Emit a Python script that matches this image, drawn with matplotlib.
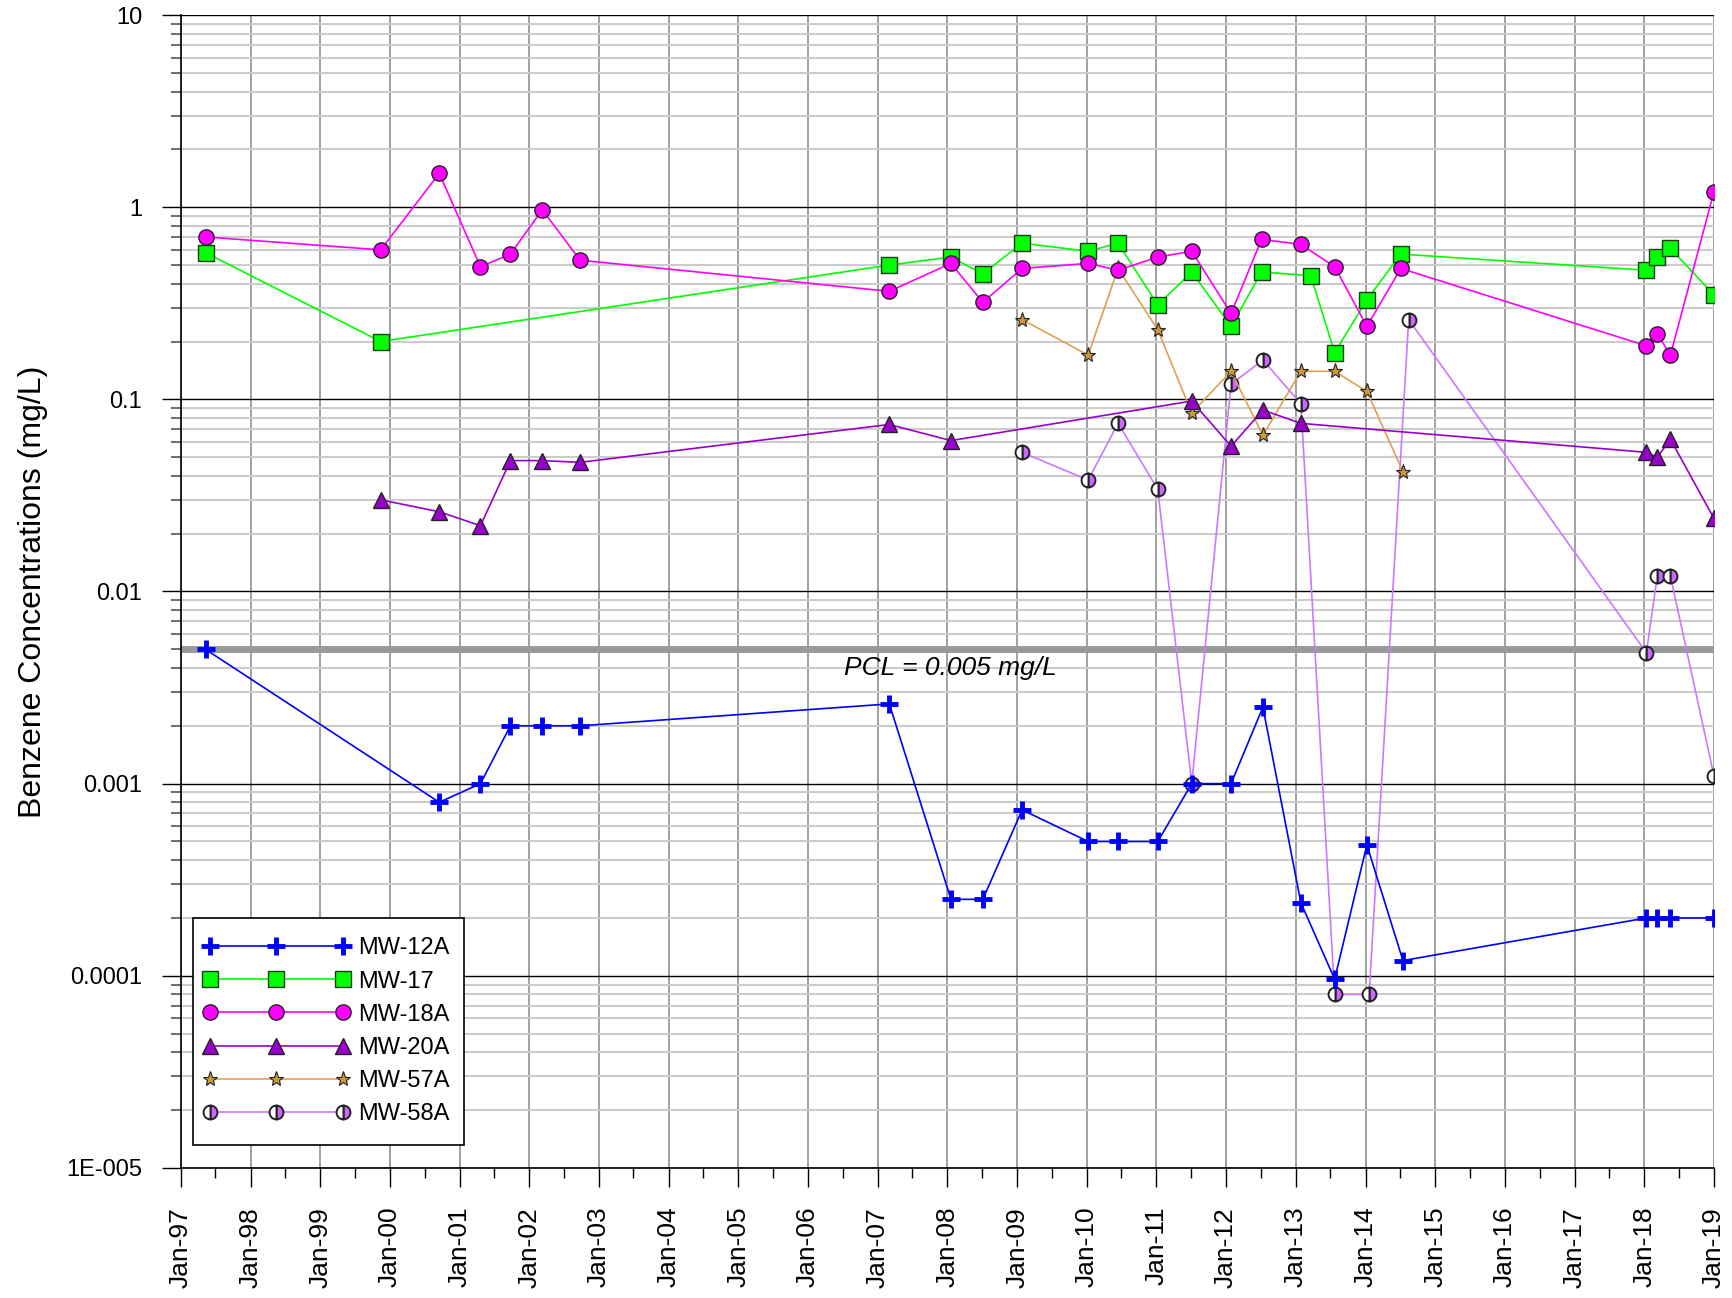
import pandas as pd
import matplotlib
matplotlib.use("Agg")
import matplotlib.pyplot as plt
import matplotlib.dates as mdates
from matplotlib.patches import Rectangle
from matplotlib.transforms import IdentityTransform
from matplotlib.ticker import LogLocator, NullFormatter

plt.rcParams['font.family'] = ['Liberation Sans', 'DejaVu Sans']

# sampling results (mg/L)
mw12a_dates = ["1997-05-10", "2000-09-16", "2001-04-20", "2001-09-24", "2002-03-10", "2002-09-24",
               "2007-03-03", "2008-01-20", "2008-07-05", "2009-01-27", "2010-01-08", "2010-06-14",
               "2011-01-08", "2011-07-05", "2012-01-27", "2012-07-12", "2013-01-27", "2013-07-23",
               "2014-01-08", "2014-07-16", "2018-01-12", "2018-03-10", "2018-05-18", "2019-01-01"]
mw12a_vals = [0.005, 0.0008, 0.001, 0.002, 0.002, 0.002, 0.0026, 0.00025, 0.00025, 0.00073, 0.0005, 0.0005,
              0.0005, 0.001, 0.001, 0.0025, 0.00024, 0.000096, 0.00048, 0.00012, 0.0002, 0.0002, 0.0002, 0.0002]

mw17_dates = ["1997-05-10", "1999-11-14", "2007-03-03", "2008-01-20", "2008-07-05", "2009-01-27",
              "2010-01-08", "2010-06-14", "2011-01-08", "2011-07-05", "2012-01-27", "2012-07-05",
              "2013-03-20", "2013-07-23", "2014-01-08", "2014-07-05", "2018-01-12", "2018-03-10",
              "2018-05-18", "2019-01-01"]
mw17_vals = [0.58, 0.20, 0.50, 0.55, 0.45, 0.65, 0.59, 0.65, 0.31, 0.46, 0.24, 0.46,
             0.44, 0.175, 0.33, 0.57, 0.47, 0.55, 0.61, 0.35]

mw18a_dates = ["1997-05-10", "1999-11-14", "2000-09-16", "2001-04-20", "2001-09-24", "2002-03-10",
               "2002-09-24", "2007-03-03", "2008-01-20", "2008-07-05", "2009-01-27", "2010-01-08",
               "2010-06-14", "2011-01-08", "2011-07-05", "2012-01-27", "2012-07-05", "2013-01-27",
               "2013-07-23", "2014-01-08", "2014-07-05", "2018-01-12", "2018-03-10", "2018-05-18",
               "2019-01-01"]
mw18a_vals = [0.70, 0.60, 1.5, 0.49, 0.57, 0.97, 0.53, 0.365, 0.51, 0.32, 0.48, 0.51, 0.47,
              0.55, 0.59, 0.28, 0.68, 0.64, 0.49, 0.24, 0.48, 0.19, 0.22, 0.17, 1.2]

mw20a_dates = ["1999-11-14", "2000-09-16", "2001-04-20", "2001-09-24", "2002-03-10", "2002-09-24",
               "2007-03-03", "2008-01-20", "2011-07-05", "2012-01-27", "2012-07-12", "2013-01-27",
               "2018-01-12", "2018-03-10", "2018-05-18", "2019-01-01"]
mw20a_vals = [0.030, 0.026, 0.022, 0.048, 0.048, 0.047, 0.074, 0.061, 0.098, 0.057, 0.088, 0.075,
              0.053, 0.050, 0.062, 0.024]

mw57a_dates = ["2009-01-27", "2010-01-08", "2010-06-14", "2011-01-08", "2011-07-05", "2012-01-27",
               "2012-07-12", "2013-01-27", "2013-07-23", "2014-01-08", "2014-07-16"]
mw57a_vals = [0.26, 0.17, 0.48, 0.23, 0.085, 0.14, 0.065, 0.14, 0.14, 0.11, 0.042]

mw58a_dates = ["2009-01-27", "2010-01-08", "2010-06-14", "2011-01-08", "2011-07-05", "2012-01-27",
               "2012-07-12", "2013-01-27", "2013-07-23", "2014-01-20", "2014-08-15", "2018-01-12",
               "2018-03-10", "2018-05-18", "2019-01-01"]
mw58a_vals = [0.053, 0.038, 0.075, 0.034, 0.001, 0.12, 0.16, 0.095, 0.00008, 0.00008, 0.26, 0.0048,
              0.012, 0.012, 0.0011]

pcl = 0.005

ytick_vals = [1e-5, 1e-4, 1e-3, 1e-2, 1e-1, 1, 10]
ytick_labels = ["1E-005", "0.0001", "0.001", "0.01", "0.1", "1", "10"]

fig = plt.figure(figsize=(17.33, 12.98), dpi=100)
ax = fig.add_axes([0.1044, 0.1002, 0.8846, 0.8882])

d = pd.to_datetime
ax.plot(d(mw12a_dates), mw12a_vals, color="#0000FF", lw=1.2, marker="+", ms=13, mew=3.5,
        mec="#0000FF", label="MW-12A", zorder=7)
ax.plot(d(mw17_dates), mw17_vals, color="#00FF00", lw=1.2, marker="s", ms=11,
        mfc="#00FF00", mec="#1A3A1A", mew=1, label="MW-17", zorder=5)
ax.plot(d(mw18a_dates), mw18a_vals, color="#FF00FF", lw=1.2, marker="o", ms=11,
        mfc="#FF00FF", mec="#222222", mew=1, label="MW-18A", zorder=6)
ax.plot(d(mw20a_dates), mw20a_vals, color="#9900CC", lw=1.2, marker="^", ms=11,
        mfc="#9900CC", mec="#222222", mew=1, label="MW-20A", zorder=4)
ax.plot(d(mw57a_dates), mw57a_vals, color="#E0A050", lw=1.2, marker="*", ms=11,
        mfc="#CC9933", mec="#222222", mew=0.8, label="MW-57A", zorder=3)
ax.plot(d(mw58a_dates), mw58a_vals, color="#CC77FF", lw=1.2, marker="o", ms=10,
        fillstyle="right", mfc="#CC66FF", mfcalt="white", mec="#222222", mew=1.4,
        label="MW-58A", zorder=2)

# PCL reference line
ax.axhline(pcl, color="#999999", lw=5, zorder=1.5)
ax.text(d("2008-01-15"), 0.0046, "PCL = 0.005 mg/L", fontsize=19, style="italic",
        ha="center", va="top", zorder=8)

# axes
ax.set_yscale("log")
ax.set_ylim(1e-5, 10)
ax.set_xlim(d("1997-01-01"), d("2019-01-01"))

ax.set_yticks(ytick_vals)
ax.set_yticklabels(ytick_labels)
ax.yaxis.set_minor_locator(LogLocator(base=10, subs=range(2, 10), numticks=20))
ax.yaxis.set_minor_formatter(NullFormatter())

ax.xaxis.set_major_locator(mdates.YearLocator())
ax.xaxis.set_minor_locator(mdates.MonthLocator(bymonth=7))
ax.xaxis.set_major_formatter(mdates.DateFormatter("%b-%y"))

ax.tick_params(axis="y", which="major", length=14, width=1, labelsize=17, pad=14)
ax.tick_params(axis="y", which="minor", length=7, width=1.2, color="#555555")
ax.tick_params(axis="x", which="major", length=14, width=1, labelsize=19, pad=14, labelrotation=90)
ax.tick_params(axis="x", which="minor", length=7, width=1)

ax.grid(True, which="major", axis="y", color="black", lw=1)
ax.grid(True, which="minor", axis="y", color="#CCCCCC", lw=1.5)
ax.grid(True, which="major", axis="x", color="#999999", lw=1.3)
ax.set_axisbelow(True)

ax.spines["top"].set_visible(False)
ax.spines["right"].set_visible(False)
ax.spines["left"].set_linewidth(1.2)
ax.spines["bottom"].set_linewidth(1.2)

ax.set_ylabel("Benzene Concentrations (mg/L)", fontsize=23)
ax.yaxis.set_label_coords(-0.087, 0.5)

# legend: tight side padding, taller box drawn separately
extra = 10  # px added above and below the entries
leg = ax.legend(loc="lower left", bbox_to_anchor=(0.0078, 0.02 + extra / 1153), borderaxespad=0,
                numpoints=3, handlelength=6.24, fontsize=17, labelspacing=0.47,
                frameon=False, borderpad=0.42, handletextpad=0.34)
leg.set_zorder(10)
fig.canvas.draw()
bb = leg.get_window_extent()
ax.add_artist(Rectangle((bb.x0, bb.y0 - extra), bb.width + 4, bb.height + 2 * extra,
                        transform=IdentityTransform(), facecolor="white",
                        edgecolor="black", lw=1.2, zorder=9.5))

plt.savefig("out.png", dpi=100)
